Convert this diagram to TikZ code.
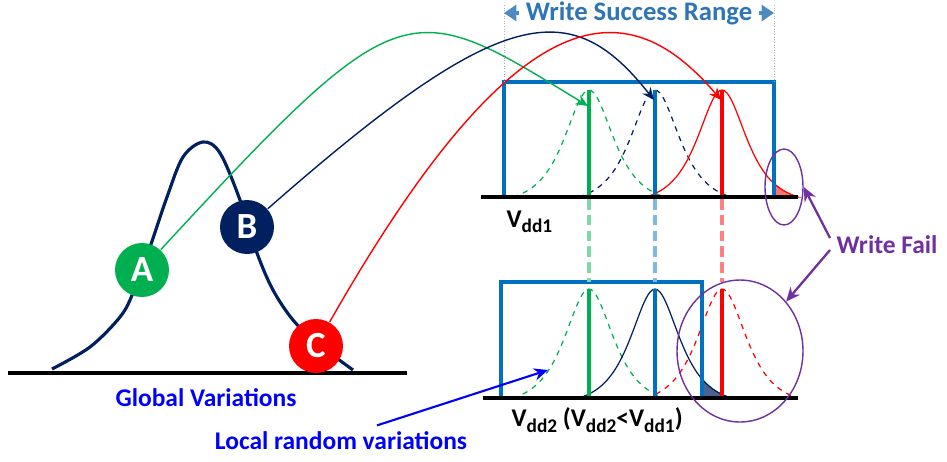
\documentclass[tikz,border=0pt]{standalone}
\usepackage{fontspec}
\setmainfont{Carlito}
\usetikzlibrary{arrows.meta,shapes.geometric}
\definecolor{navy}{RGB}{0,32,96}
\definecolor{okgreen}{RGB}{0,176,80}
\definecolor{boxblue}{RGB}{0,112,192}
\definecolor{headblue}{RGB}{46,117,182}
\definecolor{failpurple}{RGB}{112,48,160}
\newcommand{\vsub}[1]{\raisebox{-0.45ex}{\fontsize{11pt}{12pt}\selectfont #1}}
\begin{document}
\begin{tikzpicture}[x=0.02cm, y=-0.02cm, thick, font=\fontsize{14.5pt}{17pt}\selectfont\bfseries,
  declare function={bell(\t)=(1/cosh(\t/21.5)-0.058)/0.942;},
  ball/.style={circle, minimum size=1.08cm, inner sep=0pt, text=white, font=\fontsize{21pt}{23pt}\selectfont\bfseries},
  jump/.style={line width=0.8pt, -{Stealth[length=7pt,width=6pt]}},
  ground/.style={black, line width=2.2pt},
  meanbar/.style={line width=2.4pt},
  ring/.style={draw=failpurple, ellipse, line width=0.8pt, inner sep=0pt}]
  \useasboundingbox (0,0) rectangle (947,461);
  % global distribution
  \draw[ground] (8,373) -- (407,373);
  \draw[navy, line width=1.8pt] plot[smooth, tension=0.55] coordinates {(52,369) (90,347) (120,317) (133,293) (150,247) (167,197) (183,157) (203,142) (220,153) (240,200) (257,253) (273,290) (293,320) (317,343) (353,370)};
  \node[ball, fill=okgreen] (A) at (142,270) {A};
  \node[ball, fill=navy] (B) at (247,227) {B};
  \node[ball, fill=red] (C) at (316,346) {C};
  \node[text=blue] (global) at (206,398) {Global Variations};
  % local distributions, Vdd1
  \foreach \c/\col/\dsh in {589/okgreen/dashed, 655/navy/dashed, 722/red/solid}
    \draw[\col, \dsh, line width=0.7pt] plot[domain=-76:76, samples=61, smooth] ({\c+\x},{197-107*bell(\x)});
  \fill[red!55, draw=red, line width=0.6pt] (774,197) -- plot[domain=52:76, samples=13] ({722+\x},{197-107*bell(\x)}) -- cycle;
  \draw[boxblue, line width=2.3pt] (504,197) -- (504,82) -- (774,82) -- (774,197);
  % local distributions, Vdd2
  \foreach \c/\col/\dsh in {589/okgreen/dashed, 655/navy/solid, 722/red/dashed}
    \draw[\col, \dsh, line width=0.7pt] plot[domain=-76:76, samples=61, smooth] ({\c+\x},{398-109*bell(\x)});
  \fill[navy!70, draw=navy, line width=0.6pt] (702,398) -- plot[domain=47:76, samples=13] ({655+\x},{398-109*bell(\x)}) -- cycle;
  \draw[boxblue, line width=2.3pt] (501,398) -- (501,282) -- (702,282) -- (702,398);
  \foreach \c/\col in {589/okgreen, 655/boxblue, 722/red} {
    \draw[meanbar, \col] (\c,197) -- (\c,90);
    \draw[meanbar, \col] (\c,398) -- (\c,289);
    \draw[\col!50, line width=2pt, dash pattern=on 6pt off 3pt] (\c,199) -- (\c,282);
  }
  \draw[ground] (481,197) -- (798,197);
  \draw[ground] (483,398) -- (798,398);
  % shifts
  \coordinate (g1) at (588,106); \coordinate (n1) at (654,100); \coordinate (r1) at (721,100);
  \draw[jump, okgreen] (A) .. controls (403,-13) and (408,-4) .. (g1);
  \draw[jump, navy] (B) .. controls (503,2) and (571,-5) .. (n1);
  \draw[jump, red] (C) .. controls (523,-18) and (631,-6) .. (r1);
  % range
  \node[text=headblue, font=\fontsize{15.2pt}{17pt}\selectfont\bfseries] (range) at (639,13) {Write Success Range};
  \draw[gray!60, densely dotted, line width=0.5pt] (504,5) -- (504,82) (774,5) -- (774,82);
  \draw[headblue!85, line width=2.2pt, -{Triangle[length=7pt,width=9pt]}] (range.west) -- (504,13);
  \draw[headblue!85, line width=2.2pt, -{Triangle[length=7pt,width=9pt]}] (range.east) -- (774,13);
  % labels
  \node[anchor=west] (vdd1) at (500,222) {V\vsub{dd1}};
  \node[anchor=west] (vdd2) at (505,420) {V\vsub{dd2} (V\vsub{dd2}<V\vsub{dd1})};
  \node[text=blue] (local) at (341,441) {Local random variations};
  \coordinate (ltail) at (548,370);
  \draw[blue, line width=1.2pt, -{Stealth[length=8pt,width=7pt]}] ([xshift=0.72cm]local.north) -- (ltail);
  % write fail
  \node[ring, minimum width=0.76cm, minimum height=1.52cm] (ring1) at (784,187) {};
  \node[ring, minimum width=2.52cm, minimum height=2.84cm] (ring2) at (740,351) {};
  \node[text=failpurple, anchor=west] (fail) at (830,245) {Write Fail};
  \draw[failpurple, line width=1.3pt, -{Stealth[length=8pt,width=7pt]}] ([yshift=0.14cm]fail.west) -- (ring1.east);
  \draw[failpurple, line width=1.3pt, -{Stealth[length=8pt,width=7pt]}] ([yshift=-0.1cm]fail.west) -- (ring2.47);
\end{tikzpicture}
\end{document}
